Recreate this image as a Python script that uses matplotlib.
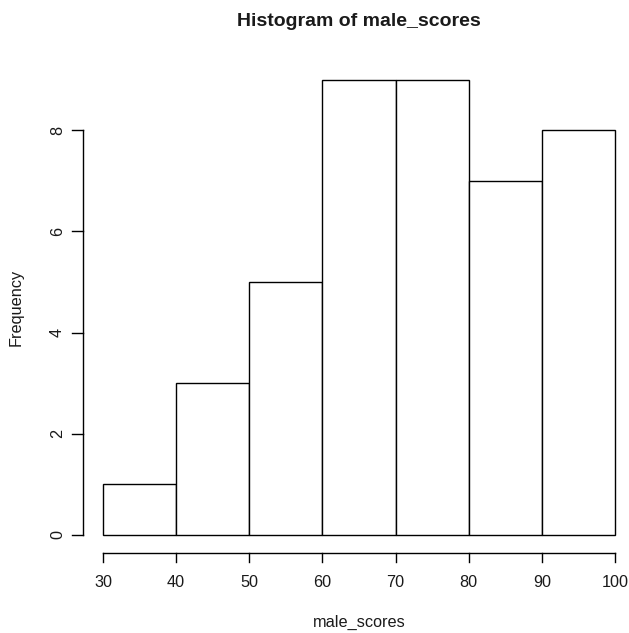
import numpy as np
import matplotlib
matplotlib.use("Agg")
import matplotlib.pyplot as plt

# histogram data
bin_edges = [30, 40, 50, 60, 70, 80, 90, 100]
counts = [1, 3, 5, 9, 9, 7, 8]
x_ticks = [30, 40, 50, 60, 70, 80, 90, 100]
y_ticks = [0, 2, 4, 6, 8]

plt.rcParams['font.family'] = ['Liberation Sans', 'DejaVu Sans']
W, H = 629, 633
fig = plt.figure(figsize=(W / 100, H / 100), dpi=100)
fig.patch.set_facecolor('white')

# plot region in pixels (R style, 4% padding around data range)
left, right, top, bottom = 82.5, 635.5, 61.4, 553.2
ax = fig.add_axes([left / W, (H - bottom) / H, (right - left) / W, (bottom - top) / H])
ax.set_xlim(27.2, 102.8)
ax.set_ylim(-0.36, 9.36)
for s in ax.spines.values():
    s.set_visible(False)
ax.set_xticks([])
ax.set_yticks([])
ax.patch.set_alpha(0)

widths = np.diff(bin_edges)
ax.bar(bin_edges[:-1], counts, width=widths, align='edge',
       facecolor='white', edgecolor='black', linewidth=1.0)

# axes drawn like base R: line + outward ticks + labels
txt = '#1a1a1a'
fs = 11.7
ax.plot([x_ticks[0], x_ticks[-1]], [-0.36, -0.36], color='black', lw=1.0, clip_on=False)
for t in x_ticks:
    ax.plot([t, t], [-0.36, -0.36 - 9 / 50.6], color='black', lw=1.0, clip_on=False)
    ax.text(t, -0.36 - 29 / 50.6, str(t), ha='center', va='center', fontsize=fs, color=txt)

px = 7.314  # pixels per x unit
ax.plot([27.2, 27.2], [y_ticks[0], y_ticks[-1]], color='black', lw=1.0, clip_on=False)
for t in y_ticks:
    ax.plot([27.2, 27.2 - 10 / px], [t, t], color='black', lw=1.0, clip_on=False)
    ax.text(27.2 - 25 / px, t, str(t), ha='center', va='center', rotation=90,
            fontsize=fs, color=txt)

fig.text(359 / W, 1 - 622 / H, 'male_scores', ha='center', va='center', fontsize=fs, color=txt)
fig.text(16 / W, 1 - 307 / H, 'Frequency', ha='center', va='center', rotation=90,
         fontsize=fs, color=txt)
fig.text(359 / W, 1 - 21 / H, 'Histogram of male_scores', ha='center', va='center',
         fontsize=14, fontweight='bold', color=txt)

fig.savefig('out.png', dpi=100)
